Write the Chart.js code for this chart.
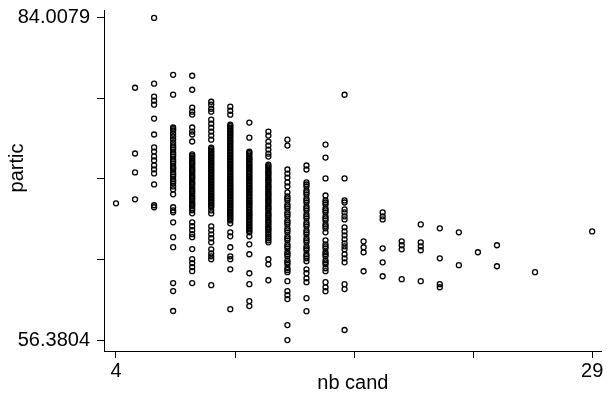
<!DOCTYPE html>
<html>
<head>
<meta charset="utf-8">
<script src="https://cdn.jsdelivr.net/npm/chart.js@4.4.1/dist/chart.umd.min.js"></script>
<style>
  html, body { margin: 0; padding: 0; background: #fff; }
  #wrap { width: 607px; height: 393px; position: relative; }
</style>
</head>
<body>
<div id="wrap"><canvas id="scatter"></canvas></div>
<script>
// number of candidates (x) and the participation values observed at each
const candCounts = [4, 5, 6, 7, 8, 9, 10, 11, 12, 13, 14, 15, 16, 17, 18, 19, 20, 21, 22, 23, 24, 26, 29];
const particByCand = [
    [68.11],
    [78.02, 72.38, 70.76, 68.45],
    [84.0079, 78.37, 77.26, 76.91, 76.57, 75.38, 74.01, 72.90, 72.55, 72.13, 71.78, 71.36, 71.02, 70.67, 69.73, 67.94, 67.77],
    [79.13, 77.43, 74.61, 74.35, 74.09, 73.84, 73.32, 73.07, 72.73, 72.47, 72.13, 71.87, 71.53, 71.27, 71.02, 70.76, 70.42, 70.16, 69.82, 69.56, 69.30, 68.88, 67.77, 67.51, 67.34, 66.48, 65.20, 64.35, 61.27, 60.58, 58.87,
     74.48, 73.58, 72.90, 72.30, 71.70, 71.14, 70.59, 69.99],
    [79.05, 77.85, 76.32, 75.97, 75.72, 74.61, 74.26, 74.01, 73.41, 72.30, 72.04, 71.70, 71.44, 71.10, 70.84, 70.50, 70.25, 69.90, 69.65, 69.30, 69.05, 68.71, 68.45, 68.11, 67.85, 67.51, 67.25, 66.48, 66.14, 65.80, 65.46, 65.20, 64.18, 63.32, 62.98, 62.64, 62.29, 61.27,
     72.17, 71.87, 71.57, 71.27, 70.97, 70.67, 70.37, 70.07, 69.78, 69.47, 69.17, 68.88, 68.58, 68.28, 67.98, 67.68],
    [76.82, 76.57, 76.22, 75.97, 75.28, 74.94, 74.60, 74.26, 73.92, 73.57, 72.89, 72.63, 72.37, 72.12, 71.86, 71.61, 71.35, 71.09, 70.84, 70.58, 70.32, 70.07, 69.81, 69.55, 69.30, 69.04, 68.78, 68.53, 68.27, 68.01, 67.76, 67.50, 67.24, 66.13, 65.79, 65.45, 65.11, 64.76, 64.16, 63.82, 63.56, 63.31, 61.09,
     72.76, 72.50, 72.24, 71.99, 71.73, 71.48, 71.22, 70.96, 70.71, 70.45, 70.19, 69.94, 69.68, 69.42, 69.17, 68.91, 68.65, 68.40, 68.14, 67.88],
    [76.40, 76.05, 75.71, 74.86, 74.60, 74.34, 74.09, 73.83, 73.57, 73.32, 73.06, 72.80, 72.55, 72.29, 72.03, 71.78, 71.52, 71.26, 71.01, 70.75, 70.49, 70.24, 69.98, 69.72, 69.47, 69.21, 68.95, 68.70, 68.44, 68.18, 67.93, 67.67, 67.41, 67.16, 66.90, 66.64, 66.39, 65.62, 65.28, 64.34, 63.56, 63.31, 62.45, 59.03,
     74.73, 74.47, 74.21, 73.96, 73.70, 73.44, 73.19, 72.93, 72.67, 72.42, 72.16, 71.90, 71.65, 71.39, 71.13, 70.88, 70.62, 70.36, 70.11, 69.85, 69.59, 69.34, 69.08, 68.82, 68.57, 68.31, 68.05, 67.80, 67.54, 67.28, 67.03, 66.77],
    [75.03, 73.74, 72.55, 72.31, 72.00, 71.78, 71.50, 71.26, 71.03, 70.75, 70.47, 70.24, 69.99, 69.72, 69.45, 69.21, 68.97, 68.70, 68.42, 68.18, 67.95, 67.67, 67.40, 67.16, 66.92, 66.64, 66.37, 66.13, 65.88, 65.62, 65.28, 64.59, 63.74, 62.11, 61.17, 59.72, 59.29,
     72.43, 72.15, 71.90, 71.64, 71.38, 71.14, 70.89, 70.61, 70.36, 70.11, 69.85, 69.58, 69.33, 69.09, 68.83, 68.56, 68.30, 68.06, 67.81, 67.53, 67.28, 67.04, 66.78, 66.50, 66.25, 66.00, 65.75],
    [74.26, 73.92, 73.40, 73.06, 72.72, 72.37, 72.12, 71.43, 71.18, 70.84, 70.58, 70.24, 69.98, 69.64, 69.38, 69.04, 68.78, 68.44, 68.18, 67.84, 67.59, 67.24, 66.99, 66.65, 66.39, 66.05, 65.79, 65.45, 65.11, 64.76, 63.31, 62.88, 61.51,
     71.30, 71.01, 70.71, 70.41, 70.11, 69.81, 69.51, 69.21, 68.91, 68.61, 68.31, 68.01, 67.71, 67.41, 67.11, 66.82, 66.52, 66.22, 65.92, 65.62, 65.28, 64.93],
    [73.57, 73.06, 71.01, 70.66, 70.32, 69.90, 69.55, 69.04, 68.70, 68.36, 68.01, 67.67, 67.33, 66.99, 66.64, 66.30, 65.96, 65.62, 65.28, 64.93, 64.59, 64.25, 63.91, 63.57, 63.22, 62.88, 62.54, 62.20, 61.43, 60.57, 60.23, 59.89, 57.66, 56.3804,
     68.53, 67.84, 67.16, 66.47, 65.79, 65.10, 64.42, 63.74, 63.05, 62.37],
    [71.35, 71.01, 69.90, 69.55, 69.21, 68.87, 68.53, 68.18, 67.84, 67.50, 67.16, 66.82, 66.47, 66.13, 65.79, 65.45, 65.11, 64.76, 64.42, 64.08, 63.74, 63.39, 63.14, 62.45, 62.11, 61.68, 61.34, 59.97, 58.86,
     69.72, 69.04, 68.36, 67.67, 66.99, 66.30, 65.62, 64.93, 64.25, 63.57],
    [73.15, 72.03, 70.24, 68.78, 68.36, 68.01, 67.67, 67.33, 66.99, 66.64, 66.30, 65.96, 65.62, 64.93, 64.59, 64.25, 63.91, 63.57, 63.22, 62.88, 62.54, 62.29, 61.34, 60.91, 60.57,
     68.18, 67.50, 66.81, 66.13, 64.42, 63.74, 63.05],
    [77.42, 70.24, 68.36, 68.18, 67.59, 67.33, 66.99, 66.73, 66.05, 65.70, 65.36, 65.02, 64.68, 64.42, 64.16, 63.74, 63.39, 63.05, 61.17, 60.75, 57.24],
    [64.85, 64.34, 63.91, 62.28],
    [67.33, 66.99, 66.73, 64.25, 63.05, 61.85],
    [64.85, 64.51, 64.16, 61.60],
    [66.30, 64.76, 64.42, 64.08, 61.43],
    [65.96, 63.39, 61.17, 60.91],
    [65.62, 62.80],
    [63.91],
    [64.51, 62.71],
    [62.20],
    [65.70]
];

// axis ticks: only the ends carry labels
const xTickValues = [4, 10.25, 16.5, 22.75, 29];
const xTickLabels = ['4', '', '', '', '29'];
const yTickValues = [56.3804, 63.287275, 70.19415, 77.101025, 84.0079];
const yTickLabels = ['56.3804', '', '', '', '84.0079'];
const xAxisTitle = 'nb cand';
const yAxisTitle = 'partic';

const points = [];
candCounts.forEach(function (n, i) {
    particByCand[i].forEach(function (v) {
        points.push({ x: n, y: v });
    });
});

const fontFamily = '"Liberation Sans", Arial, Helvetica, sans-serif';

const yTitlePlugin = {
    id: 'yTitle',
    afterDraw: function (chart) {
        const ctx = chart.ctx;
        ctx.save();
        ctx.translate(17, 168);
        ctx.rotate(-Math.PI / 2);
        ctx.font = '20px ' + fontFamily;
        ctx.fillStyle = '#000';
        ctx.textAlign = 'center';
        ctx.textBaseline = 'middle';
        ctx.fillText(yAxisTitle, 0, 0);
        ctx.restore();
    }
};

const ctx = document.getElementById('scatter').getContext('2d');
new Chart(ctx, {
    type: 'scatter',
    data: {
        datasets: [{
            label: yAxisTitle,
            data: points,
            pointStyle: 'circle',
            pointRadius: 2.5,
            borderWidth: 1.3,
            borderColor: '#000',
            backgroundColor: 'rgba(0,0,0,0)'
        }]
    },
    options: {
        responsive: true,
        maintainAspectRatio: false,
        animation: false,
        layout: { padding: { top: 10, right: 4, left: 0, bottom: 0 } },
        plugins: {
            legend: { display: false },
            tooltip: { enabled: false }
        },
        scales: {
            x: {
                type: 'linear',
                min: 3.37,
                max: 29.5,
                afterBuildTicks: function (scale) {
                    scale.ticks = xTickValues.map(v => ({ value: v }));
                },
                afterFit: function (scale) {
                    scale.height = 42;
                    scale.paddingLeft = 0;
                    scale.paddingRight = 0;
                },
                grid: {
                    display: true,
                    drawOnChartArea: false,
                    drawTicks: true,
                    tickLength: 7,
                    color: '#000',
                    tickColor: '#000'
                },
                border: { display: true, color: '#000', width: 1 },
                ticks: {
                    autoSkip: false,
                    maxRotation: 0,
                    padding: 1,
                    color: '#000',
                    font: { family: fontFamily, size: 20 },
                    callback: function (value, index) {
                        return xTickLabels[index];
                    }
                },
                title: {
                    display: true,
                    text: xAxisTitle,
                    color: '#000',
                    font: { family: fontFamily, size: 20, lineHeight: 1 },
                    padding: { top: 0, bottom: 0 }
                }
            },
            y: {
                type: 'linear',
                min: 55.44,
                max: 84.69,
                afterBuildTicks: function (scale) {
                    scale.ticks = yTickValues.map(v => ({ value: v }));
                },
                afterFit: function (scale) {
                    scale.width = 104;
                    scale.paddingTop = 0;
                    scale.paddingBottom = 0;
                },
                grid: {
                    display: true,
                    drawOnChartArea: false,
                    drawTicks: true,
                    tickLength: 7,
                    color: '#000',
                    tickColor: '#000'
                },
                border: { display: true, color: '#000', width: 1 },
                ticks: {
                    autoSkip: false,
                    padding: 7,
                    color: '#000',
                    font: { family: fontFamily, size: 20 },
                    callback: function (value, index) {
                        return yTickLabels[index];
                    }
                }
            }
        }
    },
    plugins: [yTitlePlugin]
});
</script>
</body>
</html>
